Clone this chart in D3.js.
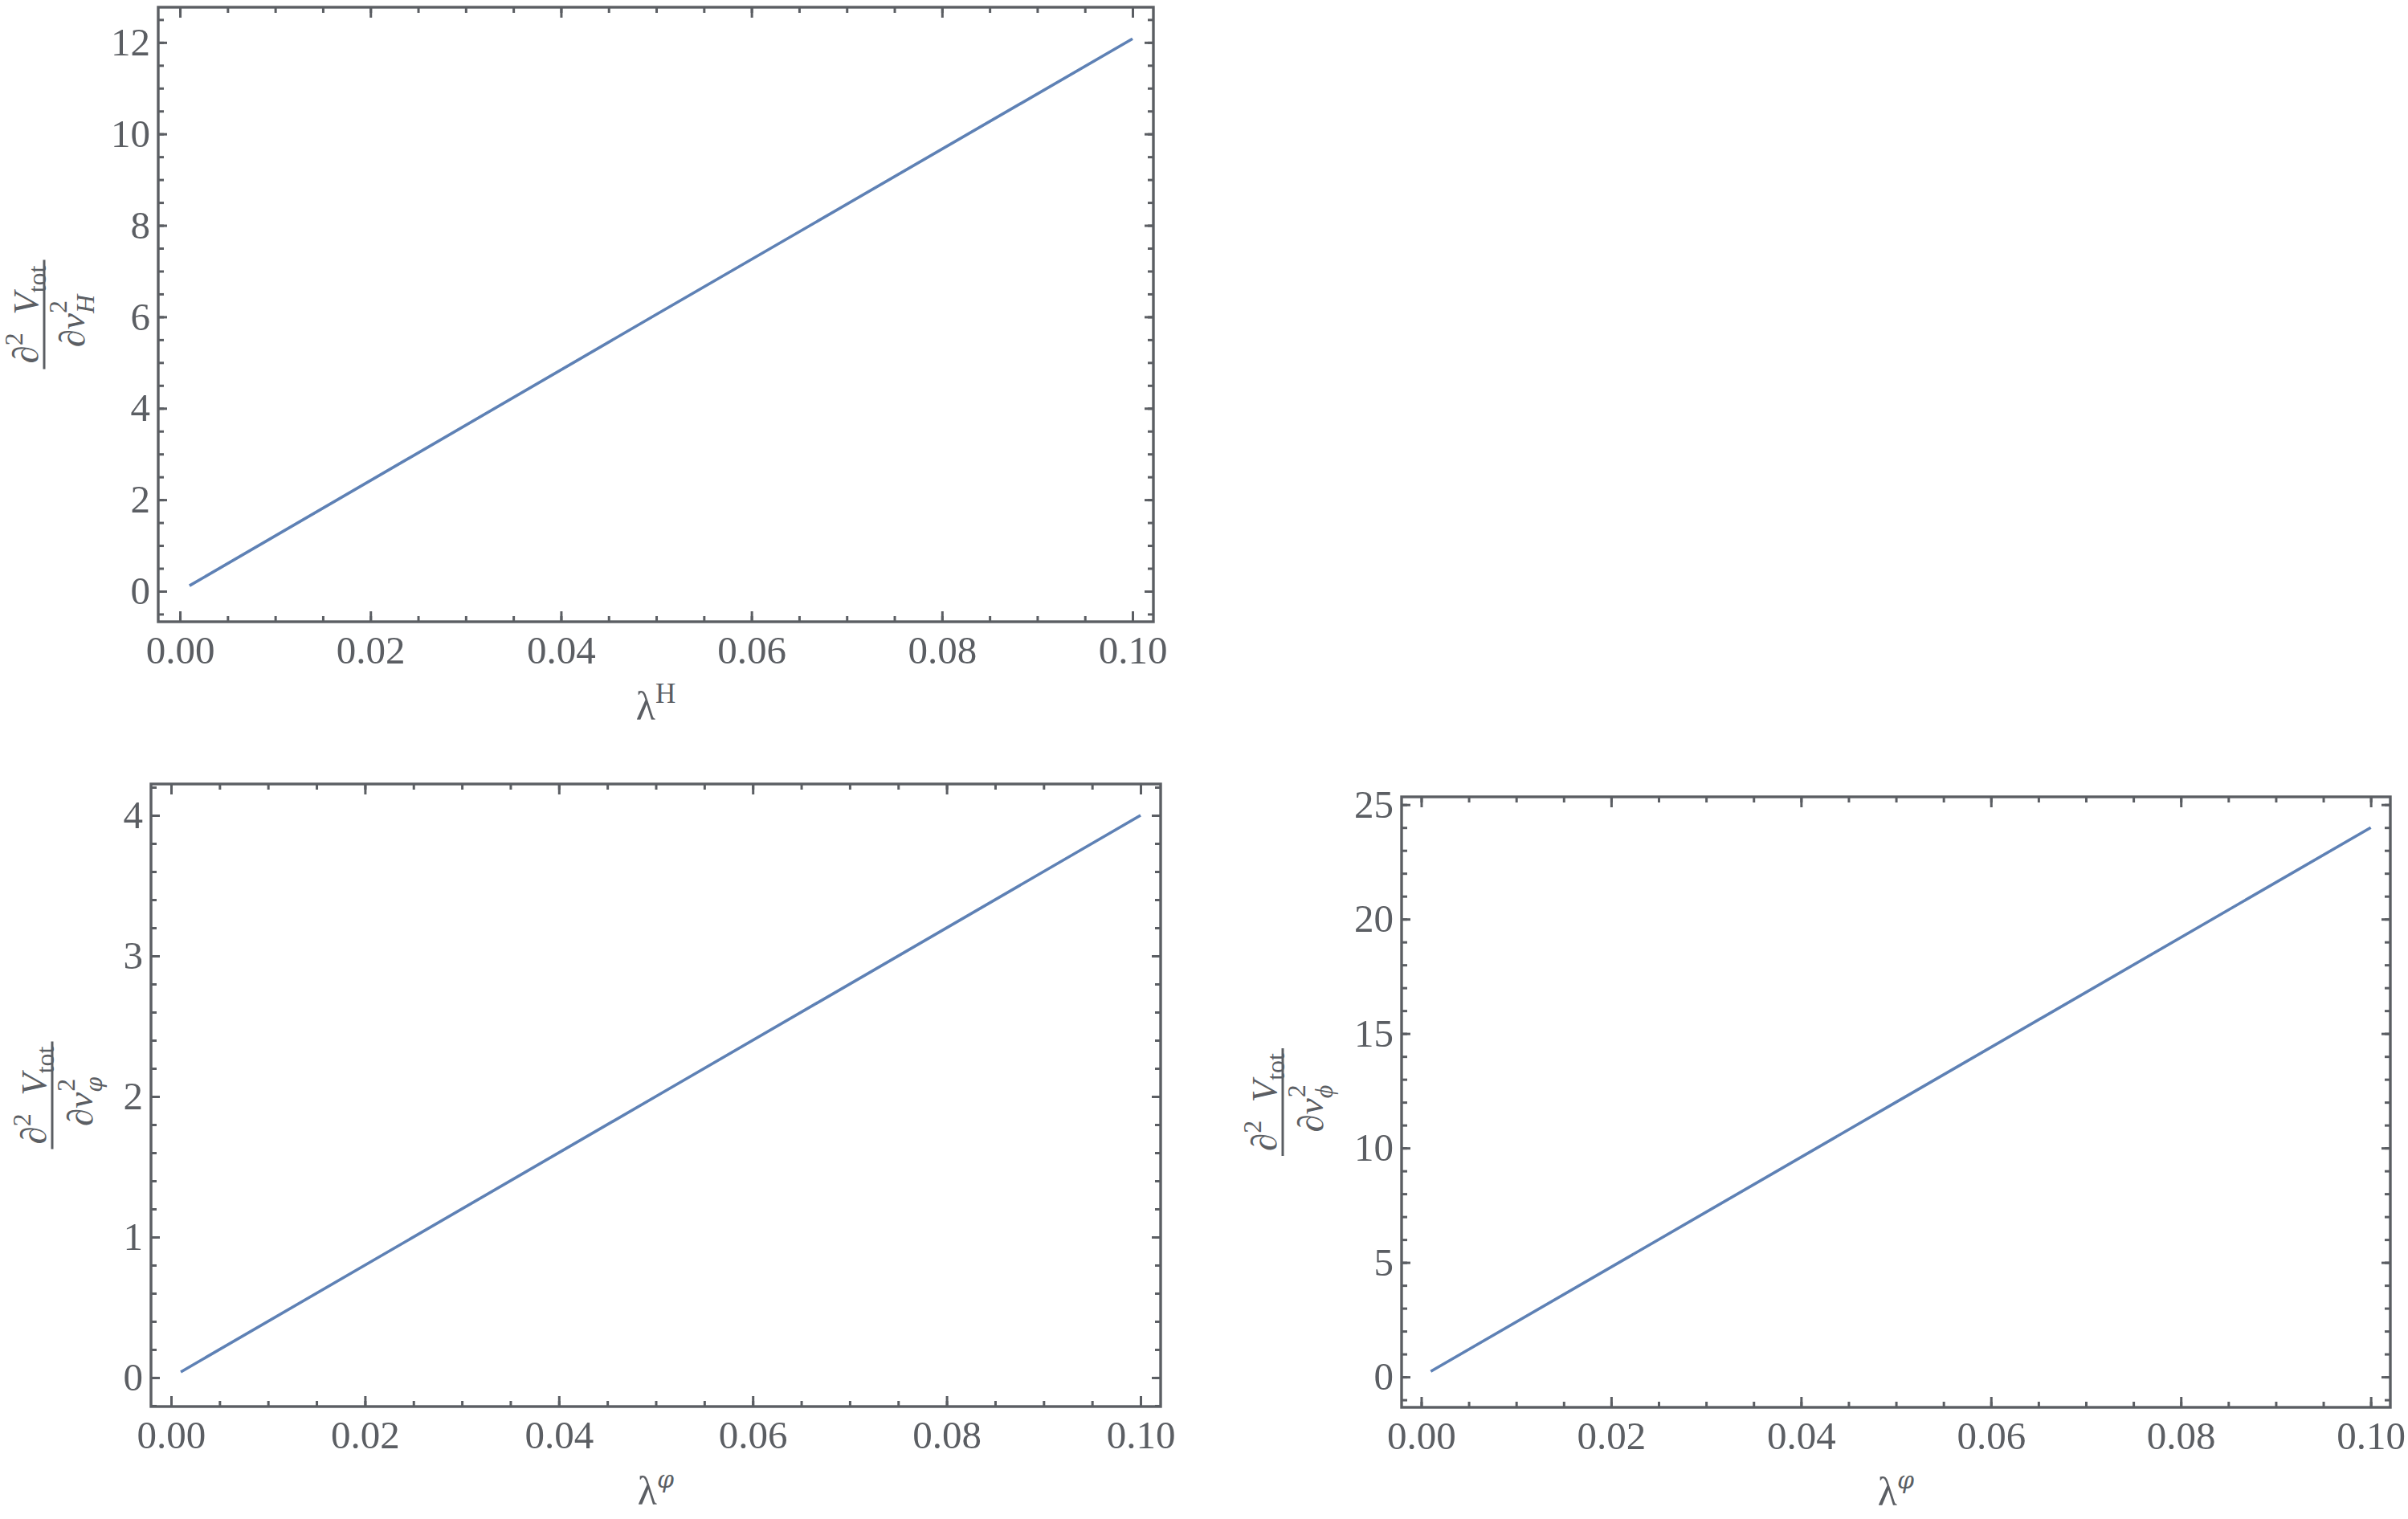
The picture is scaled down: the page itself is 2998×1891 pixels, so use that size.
<!DOCTYPE html>
<html>
  <head>
    <meta charset="utf-8">
    <title>second derivatives of V_tot</title>
    <script src="https://d3js.org/d3.v7.min.js"></script>
    <style>
      body { margin: 0; background: #fff; }
      svg, text { font-family: "Liberation Serif", serif; }
      text { fill: #5b5e63; }
    </style>
  </head>
  <body>
    <div id="vis"></div>
    <script>
    // values
    let lambdaH = [0.001, 0.05, 0.1];
    let d2V_H = [0.12, 6.05, 12.08];

    let lambdaPhi = [0.001, 0.05, 0.1];
    let d2V_varphi = [0.04, 2.0, 4.0];
    let d2V_phi = [0.24, 12.0, 24.0];

    let xTicks = [0, 0.02, 0.04, 0.06, 0.08, 0.10];
    let yTicksH = [0, 2, 4, 6, 8, 10, 12];
    let yTicksVarphi = [0, 1, 2, 3, 4];
    let yTicksPhi = [0, 5, 10, 15, 20, 25];

    const gray = "#5b5e63", blue = "#5e81b5";
    const serif = "'Liberation Serif', serif";
    const curly = "'DejaVu Serif', serif"; // has the loopy φ
    const w = 2998, h = 1891;

    let svg = d3.select("#vis").append("svg")
                .attr("width", w)
                .attr("height", h)
                .attr("font-family", serif);

    function minors(lo, hi, step) {
      let out = [];
      let n = Math.round((hi - lo) / step);
      for (let i = 0; i <= n; i++) out.push(+(lo + i * step).toFixed(6));
      return out;
    }

    // tspan for an index letter; the loopy phi comes from DejaVu
    function indexSpan(sel, letter, size, italic) {
      let t = sel.append("tspan").style("font-size", size + "px")
                 .style("font-style", italic ? "italic" : "normal");
      if (letter === "φ") t.style("font-family", curly).style("font-size", Math.round(size * 0.85) + "px");
      return t.text(letter);
    }

    function panel(p) {
      let x = d3.scaleLinear().domain(p.xDom).range([p.left, p.right]);
      let y = d3.scaleLinear().domain(p.yDom).range([p.bottom, p.top]);
      let g = svg.append("g");

      let xMinor = minors(0, 0.1, 0.005);
      let yMinor = minors(p.yMinor[0], p.yMinor[1], p.yMinor[2]);

      function styleAxis(sel) {
        sel.attr("font-family", serif);
        sel.select(".domain").remove();
        sel.selectAll("line").attr("stroke", gray).attr("stroke-width", 3);
        sel.selectAll("text").attr("fill", gray)
           .style("font-family", serif).style("font-size", "49px");
      }

      // bottom
      g.append("g").attr("transform", "translate(0," + p.bottom + ")")
        .call(d3.axisBottom(x).tickValues(xMinor).tickSize(-7).tickFormat(""))
        .call(styleAxis);
      g.append("g").attr("transform", "translate(0," + p.bottom + ")")
        .call(d3.axisBottom(x).tickValues(xTicks).tickSize(-13).tickPadding(17)
              .tickFormat(d3.format(".2f")))
        .call(styleAxis);
      // top
      g.append("g").attr("transform", "translate(0," + p.top + ")")
        .call(d3.axisTop(x).tickValues(xMinor).tickSize(-7).tickFormat(""))
        .call(styleAxis);
      g.append("g").attr("transform", "translate(0," + p.top + ")")
        .call(d3.axisTop(x).tickValues(xTicks).tickSize(-13).tickFormat(""))
        .call(styleAxis);
      // left
      g.append("g").attr("transform", "translate(" + p.left + ",0)")
        .call(d3.axisLeft(y).tickValues(yMinor).tickSize(-7).tickFormat(""))
        .call(styleAxis);
      g.append("g").attr("transform", "translate(" + p.left + ",0)")
        .call(d3.axisLeft(y).tickValues(p.yTicks).tickSize(-11).tickPadding(10)
              .tickFormat(d3.format("d")))
        .call(styleAxis);
      // right
      g.append("g").attr("transform", "translate(" + p.right + ",0)")
        .call(d3.axisRight(y).tickValues(yMinor).tickSize(-7).tickFormat(""))
        .call(styleAxis);
      g.append("g").attr("transform", "translate(" + p.right + ",0)")
        .call(d3.axisRight(y).tickValues(p.yTicks).tickSize(-11).tickFormat(""))
        .call(styleAxis);

      // frame
      g.append("rect")
        .attr("x", p.left).attr("y", p.top)
        .attr("width", p.right - p.left).attr("height", p.bottom - p.top)
        .attr("fill", "none").attr("stroke", gray).attr("stroke-width", 3.4);

      // the curve
      let line = d3.line().x(d => x(d[0])).y(d => y(d[1]));
      g.append("path")
        .datum(d3.zip(p.xs, p.ys))
        .attr("d", line)
        .attr("fill", "none")
        .attr("stroke", blue)
        .attr("stroke-width", 3.6);

      // x label: lambda with superscript
      let xl = g.append("text")
        .attr("x", (p.left + p.right) / 2)
        .attr("y", p.bottom + 122)
        .attr("text-anchor", "middle")
        .style("font-size", "50px");
      xl.append("tspan").text("λ");
      indexSpan(xl, p.xSup, 35, p.xSup !== "H").attr("dy", -21);

      // y label: rotated fraction
      let cy = (p.top + p.bottom) / 2;
      let yl = g.append("g").attr("transform", "translate(" + p.labelX + "," + cy + ") rotate(-90)");
      let num = yl.append("text").attr("x", 0).attr("y", -8)
        .attr("text-anchor", "middle").style("font-size", "45px");
      num.append("tspan").style("font-style", "italic").text("∂");
      num.append("tspan").attr("dy", -19).style("font-size", "32px").text("2");
      num.append("tspan").attr("dy", 19).text("\u2002");
      num.append("tspan").style("font-style", "italic").text("V");
      num.append("tspan").attr("dy", 10).style("font-size", "32px").text("tot");

      yl.append("line")
        .attr("x1", -p.barHalf).attr("x2", p.barHalf).attr("y1", 0).attr("y2", 0)
        .attr("stroke", gray).attr("stroke-width", 3);

      let den = yl.append("text").attr("x", -8).attr("y", 50)
        .attr("text-anchor", "middle").style("font-size", "45px");
      den.append("tspan").style("font-style", "italic").text("∂");
      den.append("tspan").style("font-style", "italic").text("v");
      indexSpan(den, p.sub, 32, true).attr("dy", 12);
      // superscript 2 stacked over the index
      let subBox = den.node().lastChild.getBBox();
      yl.append("text")
        .attr("x", subBox.x + 1).attr("y", 28)
        .style("font-size", "32px").text("2");
    }

    panel({
      left: 197, right: 1436, top: 9, bottom: 774,
      xDom: [-0.00228, 0.10219], yDom: [-0.668, 12.77],
      yTicks: yTicksH, yMinor: [-0.5, 12.5, 0.5],
      xs: lambdaH, ys: d2V_H,
      xSup: "H", sub: "H", labelX: 55, barHalf: 68
    });
    panel({
      left: 188, right: 1445, top: 976, bottom: 1751,
      xDom: [-0.00207, 0.10207], yDom: [-0.206, 4.223],
      yTicks: yTicksVarphi, yMinor: [-0.2, 4.2, 0.2],
      xs: lambdaPhi, ys: d2V_varphi,
      xSup: "φ", sub: "φ", labelX: 65, barHalf: 67
    });
    panel({
      left: 1745, right: 2976, top: 992, bottom: 1752,
      xDom: [-0.00207, 0.10206], yDom: [-1.33, 25.34],
      yTicks: yTicksPhi, yMinor: [-1, 25, 1],
      xs: lambdaPhi, ys: d2V_phi,
      xSup: "φ", sub: "ϕ", labelX: 1597, barHalf: 67
    });
    </script>
  </body>
</html>
